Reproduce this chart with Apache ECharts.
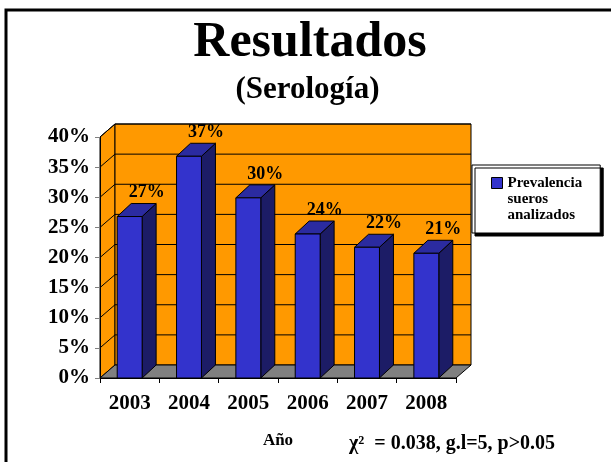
<!DOCTYPE html>
<html><head><meta charset="utf-8">
<script src="https://cdn.jsdelivr.net/npm/echarts@6/dist/echarts.min.js"></script>
<style>html,body{margin:0;padding:0;background:#fff}#c{width:611px;height:462px}</style>
</head><body><div id="c"></div>
<script>
const categories = ['2003', '2004', '2005', '2006', '2007', '2008'];
const prevalence = [26.8, 36.8, 29.9, 23.9, 21.7, 20.7];
const yTicks = [5, 10, 15, 20, 25, 30, 35, 40];
const seriesName = 'Prevalencia sueros analizados';
const titleText = 'Resultados';
const subtitleText = '(Serología)';
const axisName = 'Año';
const statText = 'χ²  = 0.038, g.l=5, p>0.05';

const SERIF = '"Liberation Serif", "Times New Roman", serif';
const DX = 15, DY = -13;      // depth of the 3D walls
const BDX = 14, BDY = -13;    // depth of the bars
const ORANGE = '#FF9900';

const chart = echarts.init(document.getElementById('c'), null, {renderer: 'canvas'});

function renderWalls(params, api) {
  const cs = params.coordSys;
  const x0 = cs.x, y0 = cs.y, w = cs.width, h = cs.height;
  const yb = y0 + h;
  const children = [];
  children.push({type: 'polygon', shape: {points: [[x0, yb], [x0, y0], [x0 + DX, y0 + DY], [x0 + DX, yb + DY]]},
    style: {fill: ORANGE, stroke: '#000', lineWidth: 1}});
  children.push({type: 'rect', shape: {x: x0 + DX, y: y0 + DY, width: w, height: h},
    style: {fill: ORANGE, stroke: '#000', lineWidth: 1}});
  children.push({type: 'polygon', shape: {points: [[x0, yb], [x0 + w, yb], [x0 + w + DX, yb + DY], [x0 + DX, yb + DY]]},
    style: {fill: '#808080', stroke: '#000', lineWidth: 1}});
  yTicks.forEach(v => {
    const y = api.coord([0, v])[1];
    children.push({type: 'polyline', shape: {points: [[x0, y], [x0 + DX, y + DY], [x0 + w + DX, y + DY]]},
      style: {fill: null, stroke: '#000', lineWidth: 1}});
  });
  return {type: 'group', children};
}

function renderBar(params, api) {
  const idx = api.value(0), v = api.value(1);
  const top = api.coord([idx, v]);
  const base = api.coord([idx, 0]);
  const band = api.size([1, 0])[0];
  const bw = band * 0.42;
  const xl = top[0] - bw / 2, xr = top[0] + bw / 2;
  const yt = top[1], yb = base[1];
  return {type: 'group', children: [
    {type: 'polygon', shape: {points: [[xr, yt], [xr + BDX, yt + BDY], [xr + BDX, yb + BDY], [xr, yb]]},
      style: {fill: '#1C1C66', stroke: '#000', lineWidth: 1}},
    {type: 'polygon', shape: {points: [[xl, yt], [xr, yt], [xr + BDX, yt + BDY], [xl + BDX, yt + BDY]]},
      style: {fill: '#2B2BA0', stroke: '#000', lineWidth: 1}},
    {type: 'rect', shape: {x: xl, y: yt, width: bw, height: yb - yt},
      style: {fill: '#3333CC', stroke: '#000', lineWidth: 1}},
    {type: 'text', x: top[0] + 17, y: yt + BDY - 2,
      style: {text: Math.round(v) + '%', font: 'bold 18px ' + SERIF, fill: '#000', align: 'center', verticalAlign: 'bottom'}}
  ]};
}

const option = {
  animation: false,
  backgroundColor: '#fff',
  grid: {left: 100, top: 137, width: 356, height: 241},
  xAxis: {
    type: 'category', data: categories, z: 10,
    axisLine: {lineStyle: {color: '#000', width: 1}},
    axisTick: {show: true, length: 5, lineStyle: {color: '#000'}},
    axisLabel: {margin: 15, color: '#000', fontFamily: SERIF, fontWeight: 'bold', fontSize: 21},
    name: axisName, nameLocation: 'middle', nameGap: 54,
    nameTextStyle: {color: '#000', fontFamily: SERIF, fontWeight: 'bold', fontSize: 17}
  },
  yAxis: {
    type: 'value', min: 0, max: 40, interval: 5, z: 10,
    axisLine: {show: true, lineStyle: {color: '#000', width: 1}},
    axisTick: {show: true, length: 5, lineStyle: {color: '#808080'}},
    splitLine: {show: false},
    axisLabel: {margin: 10, color: '#000', fontFamily: SERIF, fontWeight: 'bold', fontSize: 21, formatter: '{value}%'}
  },
  legend: {
    left: 472, top: 165, orient: 'vertical', selectedMode: false,
    data: [{name: seriesName, icon: 'rect', itemStyle: {color: '#3333CC', borderColor: '#000', borderWidth: 1}}],
    itemWidth: 11, itemHeight: 11,
    formatter: name => '\n\n' + name.split(' ').join('\n'),
    textStyle: {color: '#000', fontFamily: SERIF, fontWeight: 'bold', fontSize: 15, lineHeight: 16},
    backgroundColor: '#fff', borderColor: '#000', borderWidth: 1,
    padding: [-22, 18, 10, 19],
    shadowColor: '#000', shadowOffsetX: 3, shadowOffsetY: 3, shadowBlur: 0
  },
  graphic: [
    {type: 'polyline', shape: {points: [[6, 462], [6, 10], [611, 10]]}, style: {fill: null, stroke: '#000', lineWidth: 3}},
    {type: 'text', x: 310, y: 43, style: {text: titleText, font: 'bold 50px ' + SERIF, fill: '#000', align: 'center', verticalAlign: 'middle'}},
    {type: 'text', x: 307.5, y: 89.5, style: {text: subtitleText, font: 'bold 31px ' + SERIF, fill: '#000', align: 'center', verticalAlign: 'middle'}},
    {type: 'text', x: 349, y: 444, style: {text: statText, font: 'bold 20px ' + SERIF, fill: '#000', align: 'left', verticalAlign: 'middle'}}
  ],
  series: [
    {type: 'custom', name: 'walls', data: [[0, 0]], renderItem: renderWalls, z: 1, silent: true, clip: false},
    {type: 'custom', name: seriesName, data: prevalence.map((v, i) => [i, v]), renderItem: renderBar, z: 2,
      itemStyle: {color: '#3333CC'}, encode: {x: 0, y: 1}, clip: false}
  ]
};
chart.setOption(option);
</script>
</body></html>
